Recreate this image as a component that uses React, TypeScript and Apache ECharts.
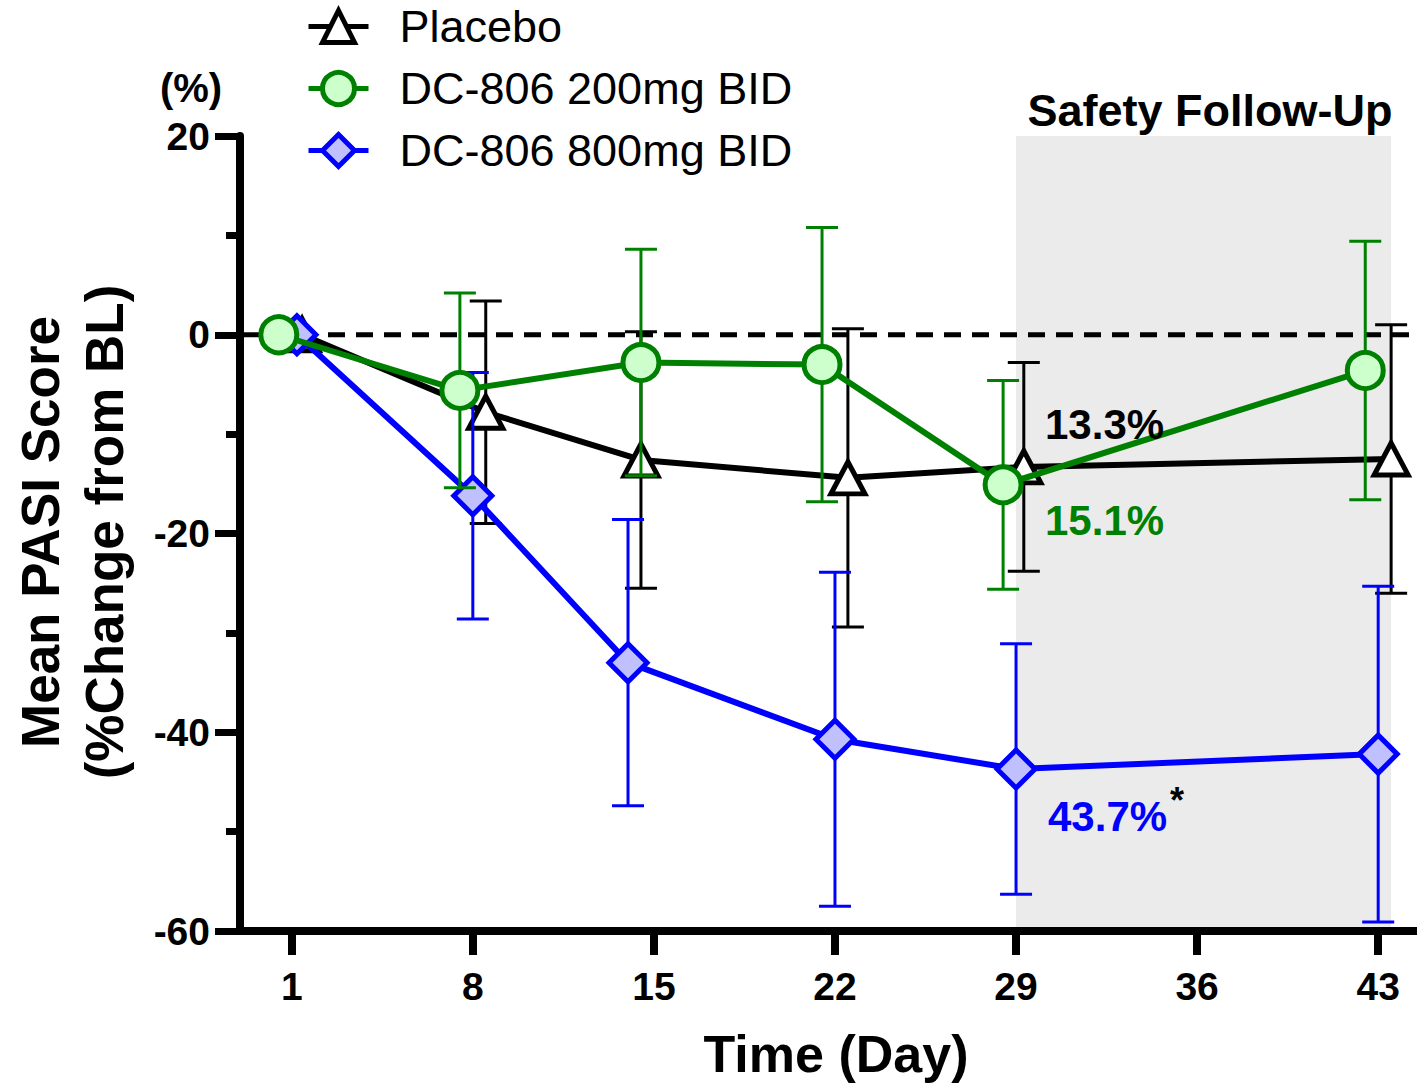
import React, { useEffect, useRef } from "react";
import * as echarts from "echarts";

// ---- data ----
const tickDays = [1, 8, 15, 22, 29, 36, 43];
const seriesNames = ["Placebo", "DC-806 200mg BID", "DC-806 800mg BID"];

// plotted x positions (days, with the original small horizontal nudges)
const placeboX = [1.4, 8.5, 14.5, 22.5, 29.3, 43.5];
const placeboMean = [0, -7.8, -12.6, -14.4, -13.3, -12.5];
const placeboSD = [0, 11.2, 12.9, 15.0, 10.5, 13.5];

const dc200X = [0.5, 7.5, 14.5, 21.5, 28.5, 42.5];
const dc200Mean = [0, -5.6, -2.8, -3.0, -15.1, -3.6];
const dc200SD = [0, 9.8, 11.4, 13.8, 10.5, 13.0];

const dc800X = [1.2, 8.0, 14.0, 22.0, 29.0, 43.0];
const dc800Mean = [0, -16.2, -33.0, -40.7, -43.7, -42.2];
const dc800SD = [0, 12.4, 14.4, 16.8, 12.6, 16.9];

const followUpRange = [29, 43.5];
const annotations = ["13.3%", "15.1%", "43.7%"];

const FONT = "'Liberation Sans', Arial, Helvetica, sans-serif";
const X_MIN = -1;
const X_MAX = 44.5;
const Y_MIN = -60;
const Y_MAX = 20;

function errorSeries(name: string, xs: number[], means: number[], sds: number[], color: string, z: number) {
  const data = xs
    .map((x, i) => [x, means[i] - sds[i], means[i] + sds[i]])
    .filter((_, i) => sds[i] > 0);
  return {
    type: "custom",
    name,
    z,
    silent: true,
    clip: false,
    encode: { x: 0, y: [1, 2] },
    renderItem: (params: any, api: any) => {
      const x = api.value(0);
      const lo = api.value(1);
      const hi = api.value(2);
      const pHi = api.coord([x, hi]);
      const pLo = api.coord([x, lo]);
      const half = 16;
      const style = { stroke: color, lineWidth: 3 };
      return {
        type: "group",
        children: [
          { type: "line", shape: { x1: pHi[0], y1: pHi[1], x2: pLo[0], y2: pLo[1] }, style },
          { type: "line", shape: { x1: pHi[0] - half, y1: pHi[1], x2: pHi[0] + half, y2: pHi[1] }, style },
          { type: "line", shape: { x1: pLo[0] - half, y1: pLo[1], x2: pLo[0] + half, y2: pLo[1] }, style },
        ],
      };
    },
    data,
  };
}

function lineSeries(name: string, xs: number[], means: number[], symbol: string, size: number | number[], color: string, fill: string, z: number) {
  return {
    type: "line",
    name,
    z,
    data: xs.map((x, i) => [x, means[i]]),
    symbol,
    symbolSize: size,
    showAllSymbol: true,
    lineStyle: { color, width: 6 },
    itemStyle: { color: fill, borderColor: color, borderWidth: 5 },
    emphasis: { disabled: true },
  };
}

const option: any = {
  animation: false,
  backgroundColor: "#ffffff",
  grid: { left: 240, right: 0, top: 136, bottom: 154, containLabel: false },
  legend: {
    data: seriesNames.map((n) => ({ name: n, itemStyle: { borderWidth: 5 }, lineStyle: { width: 5 } })),
    orient: "vertical",
    left: 301,
    top: -1,
    itemWidth: 60,
    itemHeight: 40,
    itemGap: 17,
    itemStyle: { borderWidth: 5 },
    lineStyle: { width: 5 },
    textStyle: { fontSize: 45, color: "#000", fontFamily: FONT, padding: [0, 0, 0, 26] },
    selectedMode: false,
  },
  xAxis: {
    type: "value",
    min: X_MIN,
    max: X_MAX,
    axisLine: { show: true, onZero: false, lineStyle: { color: "#000", width: 8 } },
    axisTick: { show: true, customValues: tickDays, length: 24, lineStyle: { color: "#000", width: 8 } },
    axisLabel: {
      show: true,
      customValues: tickDays,
      margin: 36,
      fontSize: 39,
      fontWeight: "bold",
      color: "#000",
      fontFamily: FONT,
    },
    splitLine: { show: false },
  },
  yAxis: {
    type: "value",
    min: Y_MIN,
    max: Y_MAX,
    interval: 20,
    axisLine: { show: true, onZero: false, lineStyle: { color: "#000", width: 8 } },
    axisTick: { show: true, length: 25, lineStyle: { color: "#000", width: 7 } },
    minorTick: { show: true, splitNumber: 2, length: 14, lineStyle: { color: "#000", width: 7 } },
    axisLabel: { margin: 30, fontSize: 39, fontWeight: "bold", color: "#000", fontFamily: FONT },
    splitLine: { show: false },
  },
  series: [
    {
      type: "custom",
      name: "followup",
      z: 0,
      silent: true,
      clip: false,
      renderItem: (params: any, api: any) => {
        const a = api.coord([api.value(0), Y_MAX]);
        const b = api.coord([api.value(1), Y_MIN]);
        return {
          type: "rect",
          shape: { x: a[0], y: a[1], width: b[0] - a[0], height: b[1] - a[1] - 4 },
          style: { fill: "#ebebeb" },
        };
      },
      data: [[followUpRange[0], followUpRange[1]]],
    },
    {
      type: "custom",
      name: "zero",
      z: 1,
      silent: true,
      clip: false,
      renderItem: (params: any, api: any) => {
        const a = api.coord([api.value(0), api.value(2)]);
        const b = api.coord([api.value(1), api.value(2)]);
        return {
          type: "line",
          shape: { x1: a[0] + 4, y1: a[1], x2: b[0], y2: b[1] },
          style: { stroke: "#000", lineWidth: 5, lineDash: [17, 11] },
        };
      },
      data: [[X_MIN, X_MAX, 0]],
    },
    errorSeries("e0", placeboX, placeboMean, placeboSD, "#000000", 2),
    lineSeries(seriesNames[0], placeboX, placeboMean, "triangle", [34, 32], "#000000", "#ffffff", 3),
    errorSeries("e2", dc800X, dc800Mean, dc800SD, "#0000ff", 4),
    lineSeries(seriesNames[2], dc800X, dc800Mean, "diamond", 38, "#0000ff", "#c0c0ff", 5),
    errorSeries("e1", dc200X, dc200Mean, dc200SD, "#008000", 6),
    lineSeries(seriesNames[1], dc200X, dc200Mean, "circle", 36, "#008000", "#ccffcc", 7),
  ],
  graphic: [
    {
      type: "text",
      x: 191,
      y: 88,
      style: { text: "(%)", fontSize: 40, fontWeight: "bold", fontFamily: FONT, fill: "#000", align: "center", verticalAlign: "middle" },
    },
    {
      type: "text",
      x: 40,
      y: 532,
      rotation: Math.PI / 2,
      style: { text: "Mean PASI Score", fontSize: 53, fontWeight: "bold", fontFamily: FONT, fill: "#000", align: "center", verticalAlign: "middle" },
    },
    {
      type: "text",
      x: 104,
      y: 532,
      rotation: Math.PI / 2,
      style: { text: "(%Change from BL)", fontSize: 53, fontWeight: "bold", fontFamily: FONT, fill: "#000", align: "center", verticalAlign: "middle" },
    },
    {
      type: "text",
      x: 836,
      y: 1054,
      style: { text: "Time (Day)", fontSize: 52, fontWeight: "bold", fontFamily: FONT, fill: "#000", align: "center", verticalAlign: "middle" },
    },
    {
      type: "text",
      x: 1210,
      y: 110,
      style: { text: "Safety Follow-Up", fontSize: 45, fontWeight: "bold", fontFamily: FONT, fill: "#000", align: "center", verticalAlign: "middle" },
    },
    {
      type: "text",
      x: 1045,
      y: 424,
      z: 20,
      style: { text: annotations[0], fontSize: 42, fontWeight: "bold", fontFamily: FONT, fill: "#000", align: "left", verticalAlign: "middle" },
    },
    {
      type: "text",
      x: 1045,
      y: 520,
      z: 20,
      style: { text: annotations[1], fontSize: 42, fontWeight: "bold", fontFamily: FONT, fill: "#008000", align: "left", verticalAlign: "middle" },
    },
    {
      type: "text",
      x: 1048,
      y: 816,
      z: 20,
      style: { text: annotations[2], fontSize: 42, fontWeight: "bold", fontFamily: FONT, fill: "#0000ff", align: "left", verticalAlign: "middle" },
    },
    {
      type: "text",
      x: 1170,
      y: 800,
      z: 20,
      style: { text: "*", fontSize: 36, fontWeight: "bold", fontFamily: FONT, fill: "#000", align: "left", verticalAlign: "middle" },
    },
  ],
};

export default function App() {
  const ref = useRef<HTMLDivElement>(null);
  useEffect(() => {
    const chart = echarts.init(ref.current as HTMLDivElement, null, { renderer: "svg" });
    chart.setOption(option);
    return () => chart.dispose();
  }, []);
  return (
    <div
      ref={ref}
      style={{ position: "absolute", left: 0, top: 0, width: 1417, height: 1085, background: "#fff" }}
    />
  );
}
